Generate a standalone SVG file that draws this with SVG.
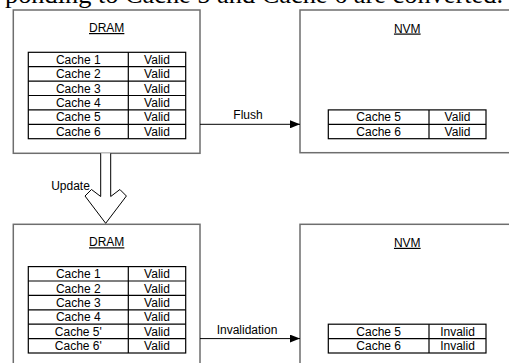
<svg xmlns="http://www.w3.org/2000/svg" width="509" height="363" viewBox="0 0 509 363">
<defs>
<style>
.box{fill:#fff;stroke:#6e6e6e;stroke-width:1.5}
.tbl{fill:#fff;stroke:#000;stroke-width:1.2}
.ln{stroke:#000;stroke-width:1.2;fill:none}
.t{font-family:"Liberation Sans",Arial,sans-serif;font-size:12px;fill:#000;text-anchor:middle}
.title{font-family:"Liberation Sans",Arial,sans-serif;font-size:12px;fill:#000;text-anchor:middle;text-decoration:underline}
.conn{stroke:#000;stroke-width:1;fill:none}
</style>
<marker id="ah" viewBox="0 0 10 8" refX="10" refY="4" markerWidth="10" markerHeight="8" markerUnits="userSpaceOnUse" orient="auto">
<path d="M0,0 L10,4 L0,8 Z" fill="#000"/>
</marker>
</defs>
<rect width="509" height="363" fill="#fff"/>
<text x="5" y="3" font-family="'Liberation Serif','Times New Roman',serif" font-size="26" textLength="498" lengthAdjust="spacingAndGlyphs">ponding to Cache 5 and Cache 6 are converted.</text>

<g id="dram-top">
<rect class="box" x="13.3" y="10" width="186.7" height="143.3"/>
<text class="title" x="106.7" y="32">DRAM</text>
<rect class="tbl" x="28.3" y="52.3" width="157.4" height="86.4"/>
<path class="ln" d="M128.3,52.3V138.7M28.3,66.7H185.7M28.3,81.1H185.7M28.3,95.5H185.7M28.3,109.9H185.7M28.3,124.3H185.7"/>
<text class="t" x="78.3" y="63.8">Cache 1</text><text class="t" x="157" y="63.8">Valid</text>
<text class="t" x="78.3" y="78.2">Cache 2</text><text class="t" x="157" y="78.2">Valid</text>
<text class="t" x="78.3" y="92.6">Cache 3</text><text class="t" x="157" y="92.6">Valid</text>
<text class="t" x="78.3" y="107">Cache 4</text><text class="t" x="157" y="107">Valid</text>
<text class="t" x="78.3" y="121.4">Cache 5</text><text class="t" x="157" y="121.4">Valid</text>
<text class="t" x="78.3" y="135.8">Cache 6</text><text class="t" x="157" y="135.8">Valid</text>
</g>

<g id="nvm-top">
<rect class="box" x="300" y="10" width="250" height="142.7"/>
<text class="title" x="407.3" y="32.5">NVM</text>
<rect class="tbl" x="328.3" y="109.9" width="157.7" height="28.8"/>
<path class="ln" d="M429,109.9V138.7M328.3,124.3H486"/>
<text class="t" x="378.7" y="121.4">Cache 5</text><text class="t" x="457.5" y="121.4">Valid</text>
<text class="t" x="378.7" y="135.8">Cache 6</text><text class="t" x="457.5" y="135.8">Valid</text>
</g>

<g id="dram-bottom">
<rect class="box" x="13.3" y="224.3" width="186.7" height="160"/>
<text class="title" x="106.7" y="246.3">DRAM</text>
<rect class="tbl" x="28.3" y="266.6" width="157.4" height="86.4"/>
<path class="ln" d="M128.3,266.6V353M28.3,281H185.7M28.3,295.4H185.7M28.3,309.8H185.7M28.3,324.2H185.7M28.3,338.6H185.7"/>
<text class="t" x="78.3" y="278.1">Cache 1</text><text class="t" x="157" y="278.1">Valid</text>
<text class="t" x="78.3" y="292.5">Cache 2</text><text class="t" x="157" y="292.5">Valid</text>
<text class="t" x="78.3" y="306.9">Cache 3</text><text class="t" x="157" y="306.9">Valid</text>
<text class="t" x="78.3" y="321.3">Cache 4</text><text class="t" x="157" y="321.3">Valid</text>
<text class="t" x="78.3" y="335.7">Cache 5'</text><text class="t" x="157" y="335.7">Valid</text>
<text class="t" x="78.3" y="350.1">Cache 6'</text><text class="t" x="157" y="350.1">Valid</text>
</g>

<g id="nvm-bottom">
<rect class="box" x="300" y="224.3" width="250" height="160"/>
<text class="title" x="407.3" y="246.8">NVM</text>
<rect class="tbl" x="328.3" y="324.2" width="157.7" height="28.8"/>
<path class="ln" d="M429,324.2V353M328.3,338.6H486"/>
<text class="t" x="378.7" y="335.7">Cache 5</text><text class="t" x="457.5" y="335.7">Invalid</text>
<text class="t" x="378.7" y="350.1">Cache 6</text><text class="t" x="457.5" y="350.1">Invalid</text>
</g>

<g id="connectors">
<path class="conn" d="M200,124.3H300" marker-end="url(#ah)"/>
<text class="t" x="248" y="119.3">Flush</text>
<path class="conn" d="M200,338.6H300" marker-end="url(#ah)"/>
<text class="t" x="247" y="333.6">Invalidation</text>
<path d="M100.7,153.3V196.5L91.5,189.5L85,196L105.7,223.3L126.4,196L119.9,189.5L110.7,196.5V153.3" fill="#fff" stroke="#000" stroke-width="1"/>
<text class="t" x="70.5" y="190">Update</text>
</g>
</svg>
